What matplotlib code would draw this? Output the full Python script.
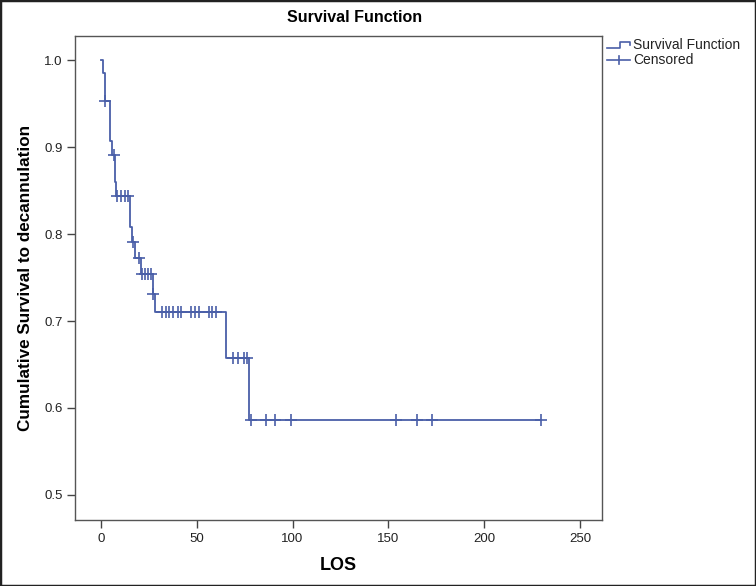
import numpy as np
import matplotlib
matplotlib.use("Agg")
import matplotlib.pyplot as plt
from matplotlib.lines import Line2D
from matplotlib.patches import Rectangle

# ---- data ----
event_times = [0, 1, 2, 5, 6, 7.5, 8, 15, 16, 18, 21, 27, 28, 65.3, 77.4]
event_surv = [1.0, 0.985, 0.953, 0.907, 0.891, 0.860, 0.844, 0.808, 0.791,
              0.773, 0.754, 0.731, 0.710, 0.658, 0.586]
censor_times = [2, 6.8, 8.6, 10.5, 12.4, 14.4, 16.8, 20, 21.5, 22.8, 24.5, 25.9,
                27.2, 32.1, 33.8, 35.5, 37.6, 40.2, 41.9, 47.1, 49.1, 51.2,
                56.4, 58.2, 60.3, 68.7, 71.3, 74.8, 76.5, 78.3, 86.1, 90.8,
                99.0, 154.1, 164.8, 172.6, 229.8]
x_ticks = [0, 50, 100, 150, 200, 250]
y_ticks = [0.5, 0.6, 0.7, 0.8, 0.9, 1.0]

plt.rcParams['font.family'] = ['Liberation Sans', 'DejaVu Sans']
color = '#4a5fa8'

W, H = 756, 586
fig = plt.figure(figsize=(W / 100, H / 100), dpi=100)
ax = fig.add_axes([75 / W, 1 - 520 / H, (602 - 75) / W, (520 - 36) / H])

end_time = max(censor_times)
xs = list(event_times) + [end_time]
ys = list(event_surv) + [event_surv[-1]]
ax.step(xs, ys, where='post', color=color, lw=1.3)

def surv_at(t):
    s = event_surv[0]
    for et, es in zip(event_times, event_surv):
        if et <= t:
            s = es
    return s

cy = [surv_at(t) for t in censor_times]
ax.plot(censor_times, cy, ls='none', marker='+', ms=8, mew=1.2, color=color)

ax.set_xlim(-13.5, 261.5)
ax.set_ylim(0.471, 1.028)
ax.set_xticks(x_ticks)
ax.set_xticklabels([str(t) for t in x_ticks])
ax.set_yticks(y_ticks)
ax.set_yticklabels([f"{t:.1f}" for t in y_ticks])
ax.tick_params(direction='out', length=6, width=1, color='#444444',
               labelsize=9.5, labelcolor='#222222', pad=3)
for sp in ax.spines.values():
    sp.set_color('#555555')
    sp.set_linewidth(1)

ax.set_xlabel('LOS', fontsize=13, fontweight='bold', labelpad=9)
ax.set_ylabel('Cumulative Survival to decannulation', fontsize=12.3,
              fontweight='bold', labelpad=8)

fig.text(355 / W, 1 - 18 / H, 'Survival Function', ha='center', va='center',
         fontsize=11.5, fontweight='bold')

# legend (drawn in figure pixels)
def px(x, y):
    return x / W, 1 - y / H

def fig_line(xpts, ypts, **kw):
    fx = [x / W for x in xpts]
    fy = [1 - y / H for y in ypts]
    fig.add_artist(Line2D(fx, fy, transform=fig.transFigure, **kw))

fig_line([607, 619.5, 619.5, 630, 630], [47.7, 47.7, 41.7, 41.7, 44.5],
         color=color, lw=1.2)
fig_line([607, 630], [59.5, 59.5], color=color, lw=1.2)
fig_line([619, 619], [55.5, 63.5], color=color, lw=1.2)
fig.text(*px(633, 45), 'Survival Function', ha='left', va='center',
         fontsize=10, color='#222222')
fig.text(*px(633, 60), 'Censored', ha='left', va='center',
         fontsize=10, color='#222222')

# outer border
fig.add_artist(Rectangle((0, 0), 1, 1, transform=fig.transFigure,
                         fill=False, edgecolor='#222222', lw=2.5))

fig.savefig('out.png', dpi=100)
